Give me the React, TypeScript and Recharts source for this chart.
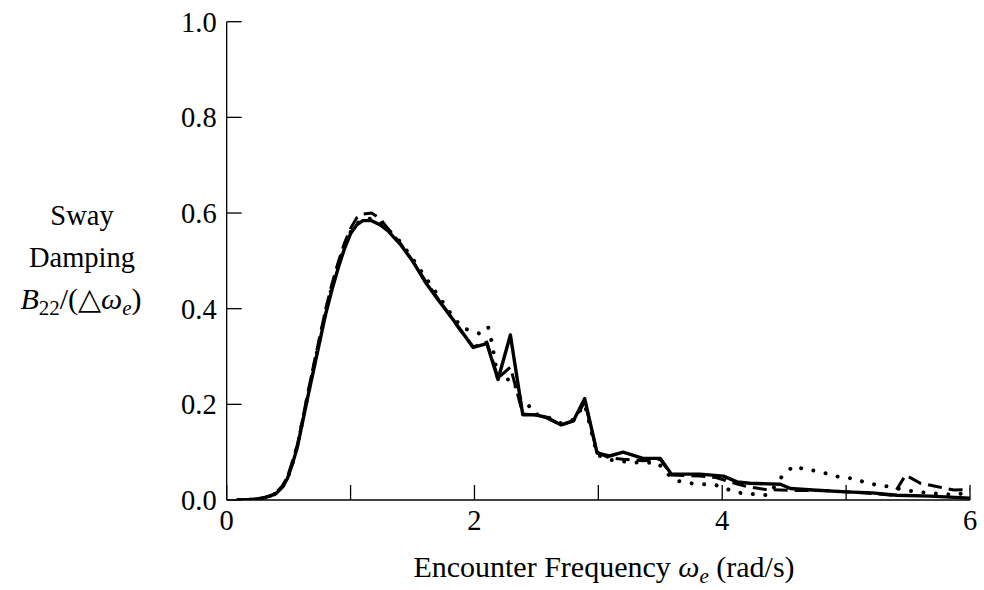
import React from "react";
import { LineChart, Line, XAxis, YAxis, Label } from "recharts";

// ---- data ----
const solidFreq = [0.09, 0.2, 0.29, 0.35, 0.4, 0.45, 0.49, 0.53, 0.57, 0.61, 0.65, 0.7, 0.75, 0.8, 0.85, 0.9, 0.95, 1.0, 1.05, 1.1, 1.17, 1.24, 1.3, 1.4, 1.5, 1.6, 1.7, 1.8, 1.9, 1.99, 2.1, 2.19, 2.29, 2.39, 2.49, 2.58, 2.7, 2.8, 2.89, 2.99, 3.09, 3.2, 3.36, 3.5, 3.59, 3.82, 4.01, 4.12, 4.22, 4.47, 4.55, 4.73, 5.0, 5.21, 5.41, 5.68, 6.0];
const solidB22 = [0.0, 0.001, 0.004, 0.008, 0.014, 0.027, 0.045, 0.075, 0.11, 0.16, 0.21, 0.27, 0.33, 0.39, 0.44, 0.485, 0.525, 0.557, 0.575, 0.584, 0.584, 0.575, 0.563, 0.535, 0.5, 0.457, 0.421, 0.387, 0.351, 0.319, 0.327, 0.252, 0.345, 0.178, 0.178, 0.173, 0.157, 0.166, 0.212, 0.098, 0.092, 0.1, 0.087, 0.087, 0.054, 0.054, 0.05, 0.038, 0.035, 0.033, 0.024, 0.021, 0.017, 0.015, 0.01, 0.008, 0.004];

const dashedFreq = [0.09, 0.2, 0.29, 0.35, 0.4, 0.45, 0.49, 0.53, 0.57, 0.61, 0.65, 0.7, 0.75, 0.8, 0.85, 0.9, 0.95, 1.0, 1.05, 1.1, 1.17, 1.24, 1.3, 1.4, 1.5, 1.6, 1.7, 1.8, 1.9, 1.99, 2.1, 2.19, 2.29, 2.39, 2.49, 2.58, 2.7, 2.8, 2.89, 2.99, 3.09, 3.2, 3.36, 3.5, 3.59, 3.82, 3.95, 4.1, 4.2, 4.35, 4.6, 4.81, 5.13, 5.38, 5.48, 5.6, 5.75, 5.87, 6.0];
const dashedB22 = [0.0, 0.001, 0.004, 0.009, 0.016, 0.03, 0.048, 0.08, 0.115, 0.165, 0.218, 0.28, 0.34, 0.4, 0.452, 0.497, 0.537, 0.568, 0.59, 0.598, 0.6, 0.588, 0.568, 0.537, 0.5, 0.46, 0.423, 0.386, 0.35, 0.32, 0.33, 0.255, 0.278, 0.18, 0.178, 0.172, 0.157, 0.165, 0.205, 0.1, 0.088, 0.085, 0.082, 0.085, 0.052, 0.05, 0.047, 0.035, 0.028, 0.022, 0.02, 0.02, 0.015, 0.01, 0.052, 0.035, 0.027, 0.021, 0.022];

const dottedFreq = [0.09, 0.2, 0.29, 0.35, 0.4, 0.45, 0.49, 0.53, 0.57, 0.61, 0.65, 0.7, 0.75, 0.8, 0.85, 0.9, 0.95, 1.0, 1.05, 1.1, 1.17, 1.24, 1.3, 1.4, 1.5, 1.6, 1.7, 1.8, 1.9, 2.04, 2.11, 2.14, 2.19, 2.25, 2.31, 2.37, 2.42, 2.48, 2.58, 2.7, 2.8, 2.89, 2.99, 3.07, 3.18, 3.27, 3.38, 3.48, 3.56, 3.64, 3.74, 3.85, 3.95, 4.06, 4.16, 4.27, 4.37, 4.49, 4.58, 4.67, 4.76, 4.86, 4.96, 5.06, 5.16, 5.26, 5.37, 5.47, 5.57, 5.68, 5.78, 5.89, 6.0];
const dottedB22 = [0.0, 0.001, 0.004, 0.008, 0.014, 0.027, 0.045, 0.076, 0.112, 0.162, 0.213, 0.275, 0.335, 0.395, 0.446, 0.49, 0.53, 0.56, 0.578, 0.587, 0.588, 0.58, 0.566, 0.54, 0.505, 0.467, 0.43, 0.393, 0.36, 0.348, 0.362, 0.33, 0.252, 0.252, 0.252, 0.212, 0.205, 0.18, 0.175, 0.16, 0.168, 0.2, 0.095, 0.085, 0.081, 0.079, 0.078, 0.078, 0.054, 0.04, 0.035, 0.033, 0.031, 0.021, 0.014, 0.012, 0.01, 0.052, 0.072, 0.063, 0.061, 0.054, 0.047, 0.045, 0.036, 0.031, 0.027, 0.021, 0.017, 0.014, 0.013, 0.01, 0.02];

const xTicks = [0, 1, 2, 3, 4, 5, 6];
const xLabelledTicks = [0, 2, 4, 6];
const yTicks = [0, 0.2, 0.4, 0.6, 0.8, 1.0];

const toPoints = (xs: number[], ys: number[]) => xs.map((x, i) => ({ x, y: ys[i] }));
const solidData = toPoints(solidFreq, solidB22);
const dashedData = toPoints(dashedFreq, dashedB22);
const dottedData = toPoints(dottedFreq, dottedB22);

const FONT = "'Liberation Serif', 'Times New Roman', serif";
const FS = 28.5;

const XTick = (props: any) => {
  const { x, y, payload } = props;
  const v = payload.value;
  return (
    <g>
      <line x1={x} y1={y} x2={x} y2={y - 15} stroke="#000" strokeWidth={1.3} />
      {xLabelledTicks.includes(v) && (
        <text x={x} y={y + 30} textAnchor="middle" fontFamily={FONT} fontSize={FS} fill="#000">
          {String(v)}
        </text>
      )}
    </g>
  );
};

const YTick = (props: any) => {
  const { x, y, payload } = props;
  const v = payload.value as number;
  return (
    <g>
      <line x1={x} y1={y} x2={x + 15} y2={y} stroke="#000" strokeWidth={1.3} />
      <text x={x - 10} y={y + 10} textAnchor="end" fontFamily={FONT} fontSize={FS} fill="#000">
        {v.toFixed(1)}
      </text>
    </g>
  );
};

const XTitle = () => (
  <text x={604} y={577} textAnchor="middle" fontFamily={FONT} fontSize={30} fill="#000">
    <tspan>Encounter Frequency </tspan>
    <tspan fontStyle="italic">ω</tspan>
    <tspan fontStyle="italic" fontSize={21} dy={6}>e</tspan>
    <tspan dy={-6}> (rad/s)</tspan>
  </text>
);

const YTitle = () => (
  <g fontFamily={FONT} fontSize={FS} fill="#000">
    <text x={82} y={225} textAnchor="middle">Sway</text>
    <text x={82} y={267} textAnchor="middle">Damping</text>
    <text x={81} y={309} textAnchor="middle" fontSize={30}>
      <tspan fontStyle="italic">B</tspan>
      <tspan fontSize={21} dy={6}>22</tspan>
      <tspan dy={-6}>/(△</tspan>
      <tspan fontStyle="italic">ω</tspan>
      <tspan fontStyle="italic" fontSize={21} dy={6}>e</tspan>
      <tspan dy={-6}>)</tspan>
    </text>
  </g>
);

export default function App() {
  return (
    <div style={{ position: "absolute", left: 0, top: 0, width: 984, height: 590, background: "#fff" }}>
      <LineChart width={984} height={590} margin={{ top: 21.7, right: 14, bottom: 0, left: 0 }}>
        <XAxis
          dataKey="x"
          type="number"
          domain={[0, 6]}
          ticks={xTicks}
          interval={0}
          height={90}
          tickSize={0}
          tickMargin={0}
          tickLine={false}
          tick={<XTick />}
          axisLine={{ stroke: "#000", strokeWidth: 1.3 }}
          allowDataOverflow
        >
          <Label content={() => <XTitle />} />
        </XAxis>
        <YAxis
          type="number"
          domain={[0, 1]}
          ticks={yTicks}
          interval={0}
          width={226.7}
          tickSize={0}
          tickMargin={0}
          tickLine={false}
          tick={<YTick />}
          axisLine={{ stroke: "#000", strokeWidth: 1.3 }}
          allowDataOverflow
        >
          <Label content={() => <YTitle />} />
        </YAxis>
        <Line
          data={dottedData}
          dataKey="y"
          type="linear"
          stroke="#000"
          strokeWidth={4}
          strokeDasharray="0.01 12.5"
          strokeLinecap="round"
          dot={false}
          activeDot={false}
          isAnimationActive={false}
        />
        <Line
          data={dashedData}
          dataKey="y"
          type="linear"
          stroke="#000"
          strokeWidth={3}
          strokeDasharray="14 7"
          dot={false}
          activeDot={false}
          isAnimationActive={false}
        />
        <Line
          data={solidData}
          dataKey="y"
          type="linear"
          stroke="#000"
          strokeWidth={3.4}
          strokeLinejoin="round"
          dot={false}
          activeDot={false}
          isAnimationActive={false}
        />
      </LineChart>
    </div>
  );
}
